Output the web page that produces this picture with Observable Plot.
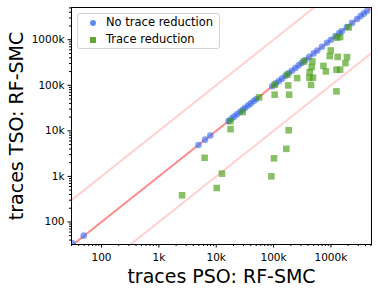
<!DOCTYPE html>
<html><head><meta charset="utf-8">
<script src="https://cdn.jsdelivr.net/npm/d3@7"></script>
<script src="https://cdn.jsdelivr.net/npm/@observablehq/plot@0.6"></script>
<style>
html,body{margin:0;padding:0;background:#fff;}
#chart{position:relative;width:378px;height:294px;font-family:"DejaVu Sans",sans-serif;}
#chart svg{display:block;}
.legend{position:absolute;left:77px;top:13px;width:141px;height:34px;border:1px solid #d2d2d2;border-radius:3px;background:rgba(255,255,255,0.85);}
.lg-item{position:absolute;font-size:11.5px;color:#000;white-space:nowrap;line-height:1;}
.mk{position:absolute;}
</style>
</head><body>
<div id="chart"></div>
<script>
// ---- data ----
const seriesNames = ["No trace reduction", "Trace reduction"];
const xLabel = "traces PSO: RF-SMC";
const yLabel = "traces TSO: RF-SMC";
const majorTicks = [100, 1000, 10000, 100000, 1000000];
const tickLabels = ["100", "1k", "10k", "100k", "1000k"];

// No trace reduction (blue circles)
const blueX = [31, 49, 4900, 6400, 7900, 16400, 18500, 20500, 23000, 26000, 29000, 32000, 36000, 40000, 45000, 50000, 95000, 110000, 124000, 140000, 161000, 185000, 209000, 240000, 274000, 310000, 359000, 420000, 501000, 580000, 700000, 855000, 1000000, 1200000, 1400000, 1560000, 1900000, 2340000, 2860000, 3300000, 3740000, 4260000];
const blueY = [34, 50, 4900, 6400, 7900, 16400, 18500, 20500, 23000, 26000, 29000, 32000, 36000, 40000, 45000, 50000, 95000, 110000, 124000, 140000, 161000, 185000, 209000, 240000, 274000, 310000, 359000, 420000, 501000, 580000, 700000, 855000, 1000000, 1200000, 1400000, 1560000, 1900000, 2340000, 2860000, 3300000, 3740000, 4260000];

// Trace reduction (green squares)
const greenX = [2540, 6280, 12600, 10200, 101600, 167000, 91600, 17800, 17600, 28900, 56100, 104500, 104500, 183500, 180000, 187000, 174000, 258000, 339000, 475000, 462000, 427000, 421000, 487000, 450000, 740000, 818000, 993000, 953000, 1315000, 1910000, 1790000, 1250000, 1450000, 1250000, 1290000, 1450000, 2050000];
const greenY = [385, 2560, 1150, 557, 2490, 4030, 1005, 10900, 16200, 25800, 54300, 103000, 62200, 10300, 99500, 62200, 171000, 144000, 334000, 334000, 251000, 195000, 147000, 147000, 102000, 266000, 202000, 583000, 437000, 420000, 415000, 307000, 220000, 220000, 73500, 1110000, 1150000, 1860000];

// reference lines y = f * x
const refFactors = [1, 10, 0.1];

// ---- build ----
const xDomain = [30, 5.1e6];
const yDomain = [32, 5.1e6];
const blue = blueX.map((x, i) => ({x, y: blueY[i]}));
const green = greenX.map((x, i) => ({x, y: greenY[i]}));
const refs = refFactors.map(f => ({f, x1: xDomain[0], x2: xDomain[1], y1: xDomain[0] * f, y2: xDomain[1] * f}));
const minorX = [], minorY = [];
for (let e = 1; e <= 6; e++) for (let m = 2; m <= 9; m++) {
  const v = m * Math.pow(10, e);
  if (v >= xDomain[0] && v <= xDomain[1]) minorX.push(v);
  if (v >= yDomain[0] && v <= yDomain[1]) minorY.push(v);
}
const fmt = d => tickLabels[majorTicks.indexOf(d)];

const plot = Plot.plot({
  width: 378, height: 294,
  marginLeft: 71, marginRight: 7, marginTop: 7, marginBottom: 50,
  style: {fontFamily: "DejaVu Sans, sans-serif", fontSize: "10.5px", color: "black", background: "white", overflow: "visible"},
  x: {type: "log", domain: xDomain},
  y: {type: "log", domain: yDomain},
  marks: [
    Plot.link(refs, {x1: "x1", x2: "x2", y1: "y1", y2: "y2", stroke: "#ff0000", strokeWidth: 2,
      strokeOpacity: d => d.f === 1 ? 0.45 : 0.18, clip: true}),
    Plot.dot(blue, {x: "x", y: "y", r: 3.3, fill: "#3a72f5", fillOpacity: 0.65, stroke: "none", clip: true}),
    Plot.dot(green, {x: "x", y: "y", r: 3.7, symbol: "square", fill: "#3f9a08", fillOpacity: 0.62, stroke: "none", clip: true}),
    Plot.axisX(minorX, {tickSize: 2, tickFormat: () => "", label: null}),
    Plot.axisY(minorY, {tickSize: 2, tickFormat: () => "", label: null}),
    Plot.axisX(majorTicks, {tickSize: 3.5, tickPadding: 5.5, tickFormat: fmt, fontSize: 10.5, label: null}),
    Plot.axisY(majorTicks, {tickSize: 3.5, tickPadding: 3.5, tickFormat: fmt, fontSize: 10.5, label: null}),
    Plot.frame({stroke: "black", strokeWidth: 1}),
    Plot.text([xLabel], {frameAnchor: "bottom", dy: 38, lineAnchor: "bottom", textAnchor: "middle", text: d => d, fontSize: 19}),
    Plot.text([yLabel], {frameAnchor: "left", dx: -49, rotate: -90, lineAnchor: "bottom", textAnchor: "middle", text: d => d, fontSize: 19})
  ]
});
const chart = document.getElementById("chart");
chart.appendChild(plot);

// legend overlay
const lg = document.createElement("div");
lg.className = "legend";
chart.appendChild(lg);
const legendItems = [
  {name: seriesNames[0], color: "#4d80f2", shape: "circle", cy: 23},
  {name: seriesNames[1], color: "#4c9e14", shape: "square", cy: 40}
];
legendItems.forEach(it => {
  const mk = document.createElement("div");
  mk.className = "mk";
  const s = 6.5;
  mk.style.left = (93 - s / 2) + "px";
  mk.style.top = (it.cy - s / 2) + "px";
  mk.style.width = s + "px"; mk.style.height = s + "px";
  mk.style.background = it.color;
  mk.style.opacity = 0.9;
  if (it.shape === "circle") mk.style.borderRadius = "50%";
  chart.appendChild(mk);
  const t = document.createElement("div");
  t.className = "lg-item";
  t.textContent = it.name;
  t.style.left = "106px";
  t.style.top = (it.cy - 6.5) + "px";
  chart.appendChild(t);
});
</script>
</body></html>
